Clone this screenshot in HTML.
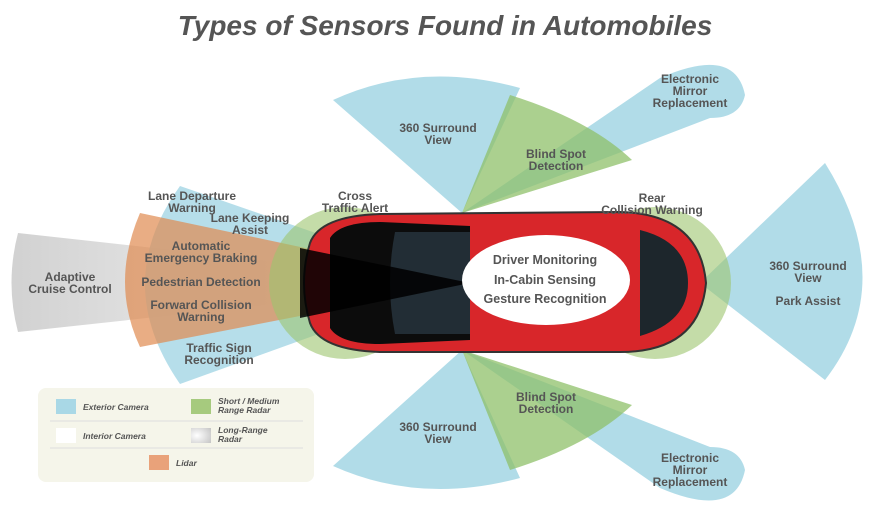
<!DOCTYPE html>
<html><head><meta charset="utf-8"><style>
html,body{margin:0;padding:0;background:#fff;}
svg{display:block}
text{font-family:"Liberation Sans",sans-serif;font-weight:bold;fill:#555;}
</style></head><body>
<svg width="890" height="515" viewBox="0 0 890 515" xmlns="http://www.w3.org/2000/svg">
<defs>
<radialGradient id="gg" cx="0.3" cy="0.5" r="0.8"><stop offset="0" stop-color="#fff"/><stop offset="1" stop-color="#c8c8c8"/></radialGradient>
<linearGradient id="gl" x1="0" x2="1"><stop offset="0" stop-color="#cfcfcf"/><stop offset="0.6" stop-color="#eee"/><stop offset="1" stop-color="#fff"/></linearGradient>
</defs>
<text x="445" y="35" text-anchor="middle" font-size="28" font-style="italic" style="fill:#555">Types of Sensors Found in Automobiles</text>

<path d="M470,283 L18,233 Q5,283 18,332 Z" fill="url(#gl)" opacity="0.95"/>
<path d="M460,283 L180,186 Q110,283 180,384 Z" fill="#a9d8e6" opacity="0.85"/>
<path d="M470,283 L140,213 Q110,283 140,347 Z" fill="#e08a50" opacity="0.7"/>
<path d="M462,213 L333,100 Q420,60 520,88 Z" fill="#a9d8e6" opacity="0.9"/>
<path d="M462,350 L333,466 Q420,505 520,478 Z" fill="#a9d8e6" opacity="0.9"/>
<path d="M462,213 L660,78 Q735,45 745,95 Q740,118 710,118 Z" fill="#a9d8e6" opacity="0.9"/>
<path d="M462,350 L660,488 Q735,520 745,470 Q740,447 710,447 Z" fill="#a9d8e6" opacity="0.9"/>
<path d="M462,213 L510,95 Q590,120 632,160 Z" fill="#8fc06a" opacity="0.75"/>
<path d="M462,350 L510,470 Q590,445 632,405 Z" fill="#8fc06a" opacity="0.75"/>
<path d="M700,283 L825,163 Q900,283 825,380 Z" fill="#a9d8e6" opacity="0.9"/>
<circle cx="345" cy="283" r="76" fill="#9cc46e" opacity="0.6"/>
<circle cx="655" cy="283" r="76" fill="#9cc46e" opacity="0.6"/>

<path d="M310,243 Q320,216 380,214 L620,212 Q700,214 706,283 Q700,352 620,352 L380,352 Q320,350 310,323 Q298,283 310,243 Z" fill="#d8262a" stroke="#333" stroke-width="2"/>
<path d="M330,238 Q340,222 380,222 L470,226 L470,340 L380,344 Q340,344 330,328 Z" fill="#0c0c0c"/>
<path d="M395,232 L470,232 L470,334 L395,334 Q385,283 395,232 Z" fill="#222d35"/>
<path d="M640,230 Q688,242 688,283 Q688,322 640,336 Z" fill="#1d262c"/>
<path d="M470,283 L300,248 L300,318 Z" fill="#000" opacity="0.85"/>
<ellipse cx="546" cy="280" rx="84" ry="45" fill="#fff"/>

<g font-size="12.5" text-anchor="middle">
<text x="545" y="264">Driver Monitoring</text>
<text x="545" y="284">In-Cabin Sensing</text>
<text x="545" y="303">Gesture Recognition</text>
</g>
<g font-size="12" text-anchor="middle">
<text x="70" y="281">Adaptive</text><text x="70" y="293">Cruise Control</text>
<text x="192" y="200">Lane Departure</text><text x="192" y="212">Warning</text>
<text x="250" y="222">Lane Keeping</text><text x="250" y="234">Assist</text>
<text x="201" y="250">Automatic</text><text x="201" y="262">Emergency Braking</text>
<text x="201" y="286">Pedestrian Detection</text>
<text x="201" y="309">Forward Collision</text><text x="201" y="321">Warning</text>
<text x="219" y="352">Traffic Sign</text><text x="219" y="364">Recognition</text>
<text x="355" y="200">Cross</text><text x="355" y="212">Traffic Alert</text>
<text x="438" y="132">360 Surround</text><text x="438" y="144">View</text>
<text x="556" y="158">Blind Spot</text><text x="556" y="170">Detection</text>
<text x="690" y="83">Electronic</text><text x="690" y="95">Mirror</text><text x="690" y="107">Replacement</text>
<text x="652" y="202">Rear</text><text x="652" y="214">Collision Warning</text>
<text x="808" y="270">360 Surround</text><text x="808" y="282">View</text>
<text x="808" y="305">Park Assist</text>
<text x="546" y="401">Blind Spot</text><text x="546" y="413">Detection</text>
<text x="438" y="431">360 Surround</text><text x="438" y="443">View</text>
<text x="690" y="462">Electronic</text><text x="690" y="474">Mirror</text><text x="690" y="486">Replacement</text>
</g>

<rect x="38" y="388" width="276" height="94" rx="8" fill="#f5f5ea"/>
<line x1="50" y1="421" x2="303" y2="421" stroke="#ddd"/>
<line x1="50" y1="448" x2="303" y2="448" stroke="#ddd"/>
<rect x="56" y="399" width="20" height="15" fill="#a9d8e6"/>
<rect x="191" y="399" width="20" height="15" fill="#a6ca7e"/>
<rect x="56" y="428" width="20" height="15" fill="#fff"/>
<rect x="191" y="428" width="20" height="15" fill="url(#gg)"/>
<rect x="149" y="455" width="20" height="15" fill="#e9a27a"/>
<g font-size="8.5" font-style="italic">
<text x="83" y="410">Exterior Camera</text>
<text x="218" y="404">Short / Medium</text><text x="218" y="413">Range Radar</text>
<text x="83" y="439">Interior Camera</text>
<text x="218" y="433">Long-Range</text><text x="218" y="442">Radar</text>
<text x="176" y="466">Lidar</text>
</g>
</svg>
</body></html>
